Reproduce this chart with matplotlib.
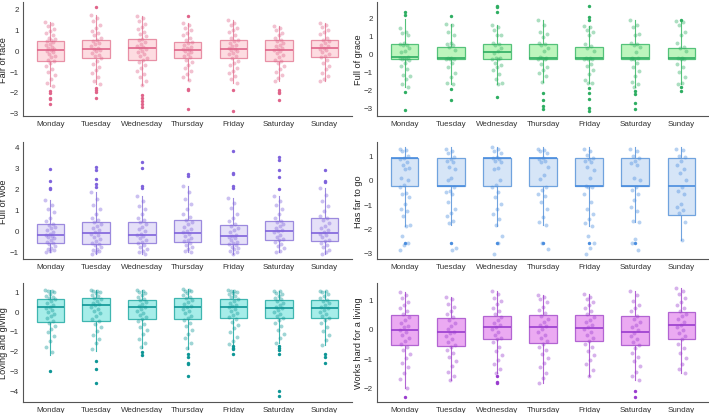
import numpy as np
import matplotlib.pyplot as plt

plt.rcParams['font.family'] = ['Liberation Sans', 'DejaVu Sans']

days = ['Monday', 'Tuesday', 'Wednesday', 'Thursday', 'Friday', 'Saturday', 'Sunday']

# box stats per day: [whislo, q1, med, q3, whishi]
face_box = [[-1.7, -0.5, 0.02, 0.44, 1.35], [-1.6, -0.37, 0.05, 0.48, 1.7],
            [-1.65, -0.48, 0.11, 0.51, 1.65], [-1.45, -0.37, 0.0, 0.40, 1.3],
            [-1.55, -0.39, 0.03, 0.47, 1.45], [-1.5, -0.5, 0.0, 0.48, 1.15],
            [-1.5, -0.34, 0.09, 0.48, 1.3]]
face_out = [[-1.95, -2.05, -2.3, -2.35, -2.6], [2.05, -1.8, -1.9, -2.0, -2.3],
            [-2.15, -2.3, -2.45, -2.6, -2.7], [1.65, -1.85, -1.9, -2.8],
            [-1.9, -2.9], [-1.9, -2.0, -2.05, -2.4], []]
face_pts = [
    [1.35, 1.25, 1.15, 1.0, 0.9, 0.8, 0.7, 0.6, 0.55, 0.5, 0.45, 0.4, 0.3, 0.25, 0.15, 0.1, 0.05, 0.0, -0.05, -0.1,
     -0.2, -0.3, -0.35, -0.45, -0.5, -0.6, -0.75, -0.9, -1.05, -1.2, -1.4, -1.55, -1.7],
    [1.7, 1.55, 1.4, 1.2, 1.05, 0.9, 0.8, 0.7, 0.6, 0.5, 0.45, 0.35, 0.3, 0.2, 0.1, 0.05, 0.0, -0.05, -0.15, -0.25,
     -0.3, -0.4, -0.5, -0.65, -0.8, -0.95, -1.1, -1.3, -1.5, -1.6],
    [1.65, 1.55, 1.4, 1.25, 1.1, 1.0, 0.85, 0.75, 0.65, 0.55, 0.5, 0.4, 0.3, 0.2, 0.15, 0.1, 0.05, -0.05, -0.1, -0.2,
     -0.3, -0.4, -0.45, -0.55, -0.7, -0.85, -1.0, -1.15, -1.3, -1.5, -1.65],
    [1.3, 1.2, 1.05, 0.95, 0.8, 0.7, 0.6, 0.5, 0.4, 0.35, 0.25, 0.15, 0.1, 0.05, 0.0, -0.05, -0.1, -0.2, -0.3, -0.35,
     -0.45, -0.55, -0.7, -0.85, -1.0, -1.15, -1.3, -1.45],
    [1.45, 1.3, 1.2, 1.05, 0.95, 0.85, 0.7, 0.6, 0.5, 0.45, 0.35, 0.25, 0.2, 0.1, 0.05, 0.0, -0.05, -0.15, -0.2, -0.3,
     -0.4, -0.5, -0.6, -0.7, -0.85, -1.0, -1.1, -1.25, -1.4, -1.55],
    [1.15, 1.05, 0.95, 0.8, 0.7, 0.6, 0.5, 0.45, 0.35, 0.25, 0.2, 0.1, 0.05, 0.0, -0.05, -0.15, -0.25, -0.35, -0.45,
     -0.5, -0.6, -0.75, -0.9, -1.05, -1.2, -1.35, -1.5],
    [1.3, 1.2, 1.1, 0.95, 0.85, 0.75, 0.6, 0.5, 0.45, 0.35, 0.25, 0.2, 0.1, 0.05, 0.0, -0.1, -0.2, -0.3, -0.35, -0.45,
     -0.6, -0.75, -0.9, -1.1, -1.25, -1.4, -1.5]]

grace_box = [[-1.85, -0.31, -0.18, 0.55, 1.9], [-1.7, -0.29, -0.27, 0.39, 1.65],
             [-1.7, -0.29, 0.11, 0.55, 1.6], [-1.55, -0.29, -0.22, 0.55, 1.85],
             [-1.65, -0.29, -0.27, 0.39, 1.55], [-1.85, -0.29, -0.27, 0.55, 1.85],
             [-1.7, -0.29, -0.27, 0.33, 1.8]]
grace_out = [[2.3, 2.15, -2.1, -3.1], [2.05, -1.95, -2.55], [2.65, 2.6, 2.3, -2.4],
             [-2.2, -2.55, -2.9, -3.05], [2.65, 2.0, 1.85, -1.9, -2.2, -2.5, -3.0, -3.2],
             [-2.05, -2.25, -2.75, -3.05], [1.85, -1.85, -2.05]]
grace_pts = [
    [1.4, 1.2, 1.15, 1.05, 0.6, 0.55, 0.5, 0.5, 0.3, 0.15, 0.1, -0.2, -0.25, -0.25, -0.3, -0.3, -0.35, -0.5, -0.7,
     -0.85, -1.2, -1.25, -1.4, -1.7, -1.85],
    [1.65, 1.6, 1.2, 1.0, 0.6, 0.55, 0.5, 0.35, 0.2, -0.25, -0.25, -0.3, -0.3, -0.3, -0.5, -0.75, -1.05, -1.3, -1.65,
     -1.7],
    [1.6, 1.45, 1.3, 1.05, 1.0, 0.6, 0.55, 0.5, 0.3, 0.15, 0.05, -0.25, -0.25, -0.3, -0.3, -0.5, -0.65, -0.75, -0.9,
     -1.15, -1.4, -1.65, -1.7],
    [1.85, 1.6, 1.2, 1.1, 0.9, 0.6, 0.55, 0.5, 0.3, 0.15, -0.2, -0.25, -0.25, -0.3, -0.3, -0.55, -0.75, -0.9, -1.05,
     -1.25, -1.55],
    [1.55, 1.45, 1.3, 1.2, 1.0, 0.55, 0.4, 0.3, 0.15, -0.25, -0.25, -0.3, -0.3, -0.3, -0.55, -0.7, -0.9, -1.15, -1.45,
     -1.6, -1.65],
    [1.85, 1.6, 1.45, 1.1, 1.0, 0.6, 0.55, 0.5, 0.35, 0.1, -0.25, -0.25, -0.3, -0.3, -0.5, -0.75, -0.95, -1.25, -1.55,
     -1.7, -1.85],
    [1.8, 1.75, 1.6, 1.2, 1.0, 0.6, 0.35, 0.3, 0.15, -0.25, -0.25, -0.3, -0.3, -0.55, -0.75, -1.0, -1.3, -1.6, -1.7]]

woe_box = [[-1.05, -0.62, -0.22, 0.29, 1.45], [-1.1, -0.66, -0.12, 0.38, 1.8],
           [-1.1, -0.58, -0.2, 0.42, 1.65], [-1.05, -0.54, -0.12, 0.49, 2.1],
           [-1.1, -0.66, -0.25, 0.26, 1.55], [-1.05, -0.45, -0.03, 0.43, 1.65],
           [-1.1, -0.51, -0.12, 0.57, 2.0]]
woe_out = [[2.9, 2.35, 2.0, 1.95], [3.0, 2.85, 2.45, 2.2, 2.05], [3.25, 2.95, 2.1, 2.0],
           [2.7, 2.6], [3.75, 2.75, 2.7, 2.1, 2.0], [3.5, 3.35, 2.85, 2.55, 1.95], [2.85, 2.35, 2.3]]
woe_pts = [
    [1.45, 1.2, 1.0, 0.85, 0.6, 0.45, 0.3, 0.25, 0.15, 0.1, 0.0, -0.1, -0.15, -0.2, -0.25, -0.3, -0.35, -0.45, -0.55,
     -0.6, -0.65, -0.75, -0.85, -0.9, -0.95, -1.0, -1.05],
    [1.8, 1.5, 1.2, 1.0, 0.8, 0.6, 0.5, 0.4, 0.3, 0.2, 0.1, 0.0, -0.1, -0.15, -0.2, -0.3, -0.4, -0.5, -0.6, -0.65,
     -0.7, -0.8, -0.9, -0.95, -1.0, -1.05, -1.1],
    [1.65, 1.4, 1.15, 1.0, 0.8, 0.6, 0.5, 0.4, 0.3, 0.15, 0.05, -0.05, -0.15, -0.2, -0.25, -0.35, -0.45, -0.55, -0.6,
     -0.7, -0.8, -0.9, -1.0, -1.05, -1.1],
    [2.1, 1.8, 1.5, 1.25, 1.0, 0.8, 0.65, 0.5, 0.4, 0.3, 0.15, 0.05, -0.05, -0.1, -0.15, -0.25, -0.35, -0.45, -0.5,
     -0.6, -0.7, -0.8, -0.9, -1.0, -1.05],
    [1.55, 1.3, 1.05, 0.8, 0.6, 0.45, 0.3, 0.2, 0.1, 0.0, -0.1, -0.2, -0.25, -0.3, -0.35, -0.45, -0.55, -0.6, -0.65,
     -0.7, -0.8, -0.85, -0.9, -1.0, -1.05, -1.1],
    [1.65, 1.4, 1.2, 1.0, 0.8, 0.6, 0.45, 0.4, 0.3, 0.2, 0.1, 0.0, -0.05, -0.1, -0.2, -0.3, -0.4, -0.45, -0.55, -0.65,
     -0.75, -0.85, -1.0, -1.05],
    [2.0, 1.7, 1.4, 1.15, 0.9, 0.7, 0.6, 0.5, 0.35, 0.2, 0.1, 0.0, -0.1, -0.15, -0.2, -0.3, -0.45, -0.5, -0.6, -0.7,
     -0.8, -0.95, -1.05, -1.1]]

far_box = [[-1.9, -0.27, 0.9, 0.9, 1.35], [-1.85, -0.27, -0.27, 0.9, 1.35],
           [-1.9, -0.27, 0.9, 0.9, 1.35], [-1.85, -0.27, 0.9, 0.9, 1.35],
           [-1.9, -0.27, -0.27, 0.9, 1.35], [-1.75, -0.27, -0.27, 0.9, 1.35],
           [-2.5, -1.43, -0.27, 0.9, 1.35]]
far_out = [[-2.6], [-2.6], [-2.6], [-2.6], [-2.6], [-2.6], []]
far_pts = [
    [1.3, 1.25, 1.2, 1.0, 0.9, 0.85, 0.75, 0.6, 0.5, 0.45, 0.1, 0.0, -0.2, -0.3, -0.55, -0.6, -0.7, -1.0, -1.2, -1.3,
     -1.5, -1.85, -1.9, -2.3, -2.6, -2.7, -2.9],
    [1.3, 1.2, 1.1, 0.95, 0.85, 0.8, 0.75, 0.55, 0.45, 0.1, 0.0, -0.3, -0.45, -0.5, -0.6, -0.9, -1.2, -1.35, -1.5,
     -1.7, -1.8, -2.8, -2.9],
    [1.35, 1.3, 1.2, 1.1, 0.95, 0.9, 0.85, 0.8, 0.75, 0.5, 0.45, 0.0, -0.2, -0.3, -0.5, -0.7, -1.0, -1.2, -1.4, -1.6,
     -1.85, -2.3, -2.6, -3.05],
    [1.3, 1.25, 1.2, 1.1, 0.9, 0.85, 0.8, 0.75, 0.55, 0.2, 0.05, -0.3, -0.4, -0.6, -0.65, -0.9, -1.2, -1.55, -1.75,
     -1.85, -2.6, -2.85],
    [1.3, 1.2, 1.05, 0.9, 0.85, 0.8, 0.75, 0.55, 0.4, 0.1, -0.25, -0.3, -0.3, -0.6, -0.9, -1.2, -1.4, -1.6, -1.8,
     -1.9, -2.3, -2.6, -2.8, -3.05],
    [1.3, 1.2, 1.0, 0.9, 0.8, 0.7, 0.6, 0.1, 0.0, -0.3, -0.4, -0.6, -0.85, -1.1, -1.3, -1.7, -1.75, -2.45, -2.6, -2.9],
    [1.3, 1.25, 1.0, 0.95, 0.8, 0.6, 0.45, 0.3, 0.0, -0.3, -0.45, -0.6, -1.0, -1.1, -1.25, -1.35, -1.75, -2.5]]

loving_box = [[-2.2, -0.55, 0.19, 0.61, 1.1], [-2.0, -0.48, 0.31, 0.65, 1.1],
              [-1.85, -0.41, 0.19, 0.55, 1.1], [-1.9, -0.41, 0.19, 0.65, 1.15],
              [-1.65, -0.33, 0.23, 0.6, 1.1], [-1.6, -0.33, 0.14, 0.55, 1.05],
              [-1.7, -0.36, 0.14, 0.55, 1.05]]
loving_out = [[-3.05], [-2.5, -2.95, -3.65], [-2.05, -2.2], [-2.15, -2.3, -2.6, -2.7, -3.3],
              [-1.75, -1.85, -1.9, -2.15], [-1.75, -1.85, -1.95, -2.15, -4.05, -4.3], [-2.15, -2.3, -2.6]]
loving_pts = [
    [1.1, 1.05, 1.0, 0.95, 0.85, 0.75, 0.7, 0.65, 0.6, 0.5, 0.4, 0.3, 0.2, 0.15, 0.05, -0.05, -0.15, -0.25, -0.35,
     -0.5, -0.6, -0.75, -0.9, -1.05, -1.25, -1.5, -1.8, -2.05],
    [1.1, 1.05, 1.0, 0.95, 0.9, 0.8, 0.75, 0.65, 0.6, 0.5, 0.4, 0.35, 0.3, 0.2, 0.1, 0.0, -0.1, -0.25, -0.4, -0.5,
     -0.65, -0.8, -1.0, -1.2, -1.4, -1.6, -1.9],
    [1.1, 1.05, 0.95, 0.9, 0.8, 0.7, 0.6, 0.55, 0.45, 0.35, 0.25, 0.2, 0.1, 0.0, -0.1, -0.2, -0.3, -0.4, -0.5, -0.65,
     -0.8, -0.95, -1.15, -1.4, -1.6, -1.8],
    [1.15, 1.1, 1.05, 1.0, 0.9, 0.8, 0.7, 0.65, 0.55, 0.45, 0.35, 0.25, 0.2, 0.1, 0.0, -0.1, -0.25, -0.35, -0.45,
     -0.6, -0.75, -0.95, -1.15, -1.35, -1.6, -1.85],
    [1.1, 1.05, 1.0, 0.95, 0.9, 0.85, 0.75, 0.7, 0.6, 0.5, 0.4, 0.3, 0.25, 0.2, 0.1, 0.0, -0.1, -0.2, -0.3, -0.4,
     -0.55, -0.7, -0.85, -1.05, -1.3, -1.5, -1.65],
    [1.05, 1.0, 0.9, 0.85, 0.75, 0.65, 0.6, 0.5, 0.4, 0.3, 0.2, 0.15, 0.05, -0.05, -0.15, -0.25, -0.35, -0.45, -0.6,
     -0.75, -0.95, -1.15, -1.35, -1.6],
    [1.05, 1.0, 0.95, 0.85, 0.75, 0.65, 0.55, 0.5, 0.4, 0.3, 0.2, 0.15, 0.05, -0.05, -0.15, -0.25, -0.35, -0.45, -0.6,
     -0.8, -1.0, -1.2, -1.45, -1.7]]

works_box = [[-2.0, -0.55, -0.04, 0.49, 1.25], [-1.75, -0.59, -0.12, 0.38, 1.1],
             [-1.5, -0.35, 0.08, 0.45, 1.3], [-1.85, -0.48, 0.08, 0.47, 1.15],
             [-1.6, -0.4, 0.02, 0.49, 1.2], [-1.75, -0.53, -0.09, 0.45, 1.3],
             [-1.5, -0.35, 0.15, 0.58, 1.38]]
works_out = [[-2.3], [], [-1.6, -1.8, -1.85], [], [], [-2.1, -2.3], []]
works_pts = [
    [1.25, 1.15, 1.05, 0.9, 0.8, 0.7, 0.6, 0.5, 0.4, 0.3, 0.2, 0.1, 0.05, -0.05, -0.1, -0.2, -0.3, -0.4, -0.5, -0.6,
     -0.7, -0.85, -1.0, -1.15, -1.3, -1.5, -1.7, -2.0],
    [1.1, 1.0, 0.85, 0.75, 0.6, 0.5, 0.4, 0.3, 0.2, 0.1, 0.0, -0.1, -0.15, -0.25, -0.35, -0.45, -0.55, -0.6, -0.7,
     -0.8, -0.95, -1.1, -1.25, -1.45, -1.6, -1.75],
    [1.3, 1.2, 1.05, 0.95, 0.85, 0.7, 0.6, 0.5, 0.4, 0.3, 0.2, 0.15, 0.05, 0.0, -0.1, -0.2, -0.3, -0.35, -0.45, -0.6,
     -0.75, -0.9, -1.05, -1.2, -1.35, -1.5],
    [1.15, 1.1, 1.0, 0.9, 0.75, 0.65, 0.55, 0.45, 0.35, 0.25, 0.15, 0.1, 0.0, -0.1, -0.2, -0.3, -0.4, -0.5, -0.6,
     -0.7, -0.85, -1.0, -1.15, -1.3, -1.5, -1.65, -1.85],
    [1.2, 1.1, 1.0, 0.9, 0.8, 0.7, 0.6, 0.5, 0.4, 0.3, 0.25, 0.15, 0.05, 0.0, -0.1, -0.2, -0.3, -0.4, -0.5, -0.6,
     -0.75, -0.9, -1.05, -1.2, -1.4, -1.6],
    [1.3, 1.15, 0.95, 0.8, 0.7, 0.6, 0.45, 0.35, 0.25, 0.15, 0.05, -0.05, -0.15, -0.25, -0.35, -0.45, -0.55, -0.65,
     -0.8, -0.95, -1.1, -1.25, -1.45, -1.6, -1.75],
    [1.38, 1.3, 1.2, 1.05, 0.9, 0.8, 0.7, 0.6, 0.5, 0.45, 0.35, 0.25, 0.15, 0.05, -0.05, -0.15, -0.25, -0.35, -0.5,
     -0.65, -0.8, -1.0, -1.2, -1.35, -1.5]]


def panel(ax, box, pts, out, dot, fill, edge, label, ylim, yticks, labx):
    stats = [dict(whislo=b[0], q1=b[1], med=b[2], q3=b[3], whishi=b[4], fliers=[]) for b in box]
    ax.bxp(stats, positions=range(1, 8), widths=0.6, patch_artist=True, showcaps=False,
           boxprops=dict(facecolor=fill, edgecolor=edge, linewidth=0.9),
           whiskerprops=dict(color=edge, linewidth=0.8),
           medianprops=dict(color=dot, linewidth=1.2), zorder=2)
    for i, p in enumerate(pts):
        jit = ((np.arange(len(p)) * 0.618) % 1 - 0.5) * 0.22
        ax.scatter(i + 1 + jit, p, s=8, color=dot, alpha=0.4, lw=0, zorder=3)
    for i, o in enumerate(out):
        ax.scatter([i + 1] * len(o), o, s=6, color=dot, lw=0, zorder=4)
    ax.set_xlim(0.4, 7.6)
    ax.set_ylim(*ylim)
    ax.set_yticks(yticks)
    ax.set_xticks(range(1, 8))
    ax.set_xticklabels(days)
    ax.tick_params(length=0, labelsize=5.8, colors='#333333', pad=3)
    for s in ['top', 'right']:
        ax.spines[s].set_visible(False)
    for s in ['left', 'bottom']:
        ax.spines[s].set_color('#555555')
        ax.spines[s].set_linewidth(0.8)
    ax.set_ylabel(label, fontsize=6.6, color='#222222')
    ax.yaxis.set_label_coords(labx, 0.5)


fig = plt.figure(figsize=(7.09, 4.14), dpi=100)
lx, lw_, rx, rw = 0.0325, 0.464, 0.5317, 0.4685
rows = [(0.7174, 0.2754), (0.372, 0.2826), (0.0266, 0.2874)]

ax = fig.add_axes([lx, rows[0][0], lw_, rows[0][1]])
panel(ax, face_box, face_pts, face_out, '#E0648A', '#FDDCE1', '#E890A6', 'Fair of face',
      (-3.15, 2.3), range(-3, 3), -0.046)
ax = fig.add_axes([rx, rows[0][0], rw, rows[0][1]])
panel(ax, grace_box, grace_pts, grace_out, '#2EAE62', '#BDF5BD', '#55C27A', 'Full of grace',
      (-3.45, 2.85), range(-3, 3), -0.042)
ax = fig.add_axes([lx, rows[1][0], lw_, rows[1][1]])
panel(ax, woe_box, woe_pts, woe_out, '#7F63DC', '#E5E0F8', '#9C8ADE', 'Full of woe',
      (-1.36, 4.2), range(-1, 5), -0.046)
ax = fig.add_axes([rx, rows[1][0], rw, rows[1][1]])
panel(ax, far_box, far_pts, far_out, '#4A8DDE', '#D6E5F7', '#70A3DE', 'Has far to go',
      (-3.27, 1.57), range(-3, 2), -0.042)
ax = fig.add_axes([lx, rows[2][0], lw_, rows[2][1]])
panel(ax, loving_box, loving_pts, loving_out, '#0E9696', '#A6EDE9', '#3FB6B0', 'Loving and giving',
      (-4.6, 1.43), range(-4, 2), -0.046)
ax = fig.add_axes([rx, rows[2][0], rw, rows[2][1]])
panel(ax, works_box, works_pts, works_out, '#9A3CCF', '#EBAAF2', '#B264D2', 'Works hard for a living',
      (-2.48, 1.56), range(-2, 2), -0.042)

fig.savefig('out.png', dpi=100)
